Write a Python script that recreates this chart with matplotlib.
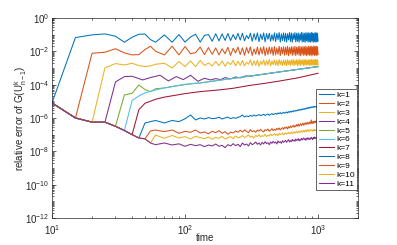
import numpy as np
import matplotlib
matplotlib.use("Agg")
import matplotlib.pyplot as plt
from matplotlib.ticker import LogLocator, NullFormatter

plt.rcParams['font.family'] = ['Liberation Sans', 'DejaVu Sans']
plt.rcParams['mathtext.default'] = 'regular'

# time samples
T = [10, 15, 20, 25, 30, 35, 40, 45, 50, 55, 60,
     70, 80, 90, 100, 110, 120, 130, 140, 150, 160,
     170, 180, 190, 200, 210, 220, 230, 240, 250, 260,
     270, 280, 290, 300, 310, 320, 330, 340, 350, 360,
     370, 380, 390, 400, 410, 420, 430, 440, 450, 460,
     470, 480, 490, 500, 510, 520, 530, 540, 550, 560,
     570, 580, 590, 600, 610, 620, 630, 640, 650, 660,
     670, 680, 690, 700, 710, 720, 730, 740, 750, 760,
     770, 780, 790, 800, 810, 820, 830, 840, 850, 860,
     870, 880, 890, 900, 910, 920, 930, 940, 950, 960,
     970, 980, 990, 1000]

# shared starting curve (log10 of error) for t = 10..60
BASE = [-5.10, -6.00, -6.25, -6.25, -6.50, -6.75, -7.00, -7.20, -7.25, -7.50, -7.60]

# log10 error of each k after it leaves the shared curve
k1 = [-1.18, -1.02, -0.96, -1.10, -1.46, -1.16, -0.98, -0.97, -1.30, -1.46,
      -1.02, -1.46, -1.00, -1.45, -1.15, -0.98, -1.45, -1.05, -1.00, -1.40,
      -0.95, -1.38, -0.96, -1.35, -0.94, -1.36, -1.00, -1.30, -0.93, -1.33,
      -0.92, -1.38, -1.05, -1.25, -0.92, -1.40, -0.95, -1.32, -0.90, -1.42,
      -0.98, -1.30, -0.90, -1.44, -0.94, -1.28, -0.92, -1.40, -1.00, -1.35,
      -0.90, -1.42, -0.93, -1.30, -0.88, -1.45, -0.96, -1.36, -0.90, -1.40,
      -0.92, -1.45, -0.95, -1.32, -0.88, -1.42, -0.90, -1.46, -0.94, -1.30,
      -0.88, -1.44, -0.92, -1.40, -0.90, -1.46, -0.95, -1.34, -0.87, -1.45,
      -0.90, -1.42, -0.93, -1.47, -0.88, -1.38, -0.91, -1.45, -0.89, -1.42,
      -0.92, -1.46, -0.87, -1.40, -0.90, -1.47, -0.93, -1.42, -0.88, -1.45,
      -0.90, -1.44, -0.92, -1.40]
k2 = [-2.12, -2.06, -1.85, -2.10, -2.22, -2.20, -1.90, -1.70, -2.00,
      -2.22, -1.70, -2.22, -1.72, -2.15, -2.08, -1.75, -2.20, -1.78, -2.18,
      -1.80, -2.22, -1.85, -2.15, -1.76, -2.25, -1.82, -2.10, -1.75, -2.20,
      -1.80, -2.24, -1.78, -2.12, -1.74, -2.25, -1.86, -2.18, -1.75, -2.22,
      -1.78, -2.15, -1.72, -2.26, -1.80, -2.20, -1.74, -2.14, -1.76, -2.25,
      -1.72, -2.22, -1.80, -2.18, -1.70, -2.26, -1.76, -2.15, -1.73, -2.24,
      -1.75, -2.20, -1.70, -2.27, -1.78, -2.16, -1.72, -2.25, -1.74, -2.20,
      -1.70, -2.26, -1.76, -2.18, -1.72, -2.24, -1.70, -2.28, -1.75, -2.18,
      -1.71, -2.25, -1.74, -2.22, -1.69, -2.27, -1.76, -2.20, -1.70, -2.26,
      -1.72, -2.22, -1.70, -2.28, -1.74, -2.20, -1.68, -2.25, -1.72, -2.23,
      -1.70, -2.26, -1.73, -2.20]
k3 = [-3.00, -2.74, -2.82, -2.72, -2.86, -2.92, -2.88, -2.78,
      -2.72, -3.00, -2.62, -2.92, -2.58, -2.92, -2.55, -2.85, -2.70, -2.88,
      -2.62, -2.86, -2.58, -2.90, -2.65, -2.80, -2.55, -2.88, -2.60, -2.84,
      -2.55, -2.88, -2.66, -2.78, -2.52, -2.86, -2.58, -2.84, -2.54, -2.90,
      -2.60, -2.80, -2.52, -2.86, -2.56, -2.82, -2.50, -2.88, -2.58, -2.80,
      -2.52, -2.84, -2.55, -2.88, -2.50, -2.80, -2.56, -2.86, -2.52, -2.82,
      -2.54, -2.87, -2.50, -2.80, -2.55, -2.85, -2.52, -2.82, -2.49, -2.86,
      -2.55, -2.80, -2.50, -2.86, -2.53, -2.83, -2.48, -2.85, -2.54, -2.80,
      -2.50, -2.86, -2.52, -2.82, -2.49, -2.84, -2.55, -2.80, -2.50, -2.86,
      -2.52, -2.82, -2.48, -2.85, -2.53, -2.80, -2.50, -2.84, -2.49, -2.82,
      -2.52, -2.85, -2.50, -2.80]

t4 = [30, 35, 40, 48, 56, 65, 75, 86, 97, 110, 125, 140, 155, 170, 185, 200,
      220, 240, 260, 285, 310, 340, 366, 500, 700, 1000]
k4 = [-3.84, -3.52, -3.50, -3.72, -3.56, -3.44, -3.78, -3.52, -3.70, -3.44,
      -3.80, -3.62, -3.72, -3.64, -3.70, -3.58, -3.66, -3.54, -3.60, -3.48,
      -3.50, -3.44, -3.41, -3.25, -3.09, -2.92]
t5 = [35, 40, 45, 50, 55, 60, 70, 85, 100, 115, 130, 200, 300, 500, 700, 1000]
k5 = [-4.62, -4.52, -4.02, -4.30, -4.42, -4.25, -4.20, -4.08, -4.00, -3.94,
      -3.90, -3.69, -3.50, -3.25, -3.09, -2.92]
t6 = [40, 45, 50, 60, 70, 80, 100, 130, 200, 300, 500, 700, 1000]
k6 = [-4.95, -4.68, -4.50, -4.32, -4.20, -4.12, -3.98, -3.90, -3.69, -3.50,
      -3.25, -3.09, -2.92]
t7 = [45, 50, 60, 70, 100, 130, 180, 230, 300, 400, 500, 700, 1000]
k7 = [-5.50, -5.12, -4.88, -4.75, -4.54, -4.42, -4.32, -4.22, -4.06, -3.92,
      -3.80, -3.60, -3.32]

k8 = [-6.30, -6.22, -6.15,
      -6.30, -6.15, -6.22, -6.05, -5.82, -6.12, -6.00, -6.06, -5.98, -6.04,
      -6.02, -5.96, -6.06, -6.00, -5.95, -6.04, -5.98, -6.02, -5.96, -5.92,
      -5.82, -5.94, -5.88, -5.92, -5.85, -5.90, -5.82, -5.88, -5.84, -5.80,
      -5.86, -5.82, -5.78, -5.85, -5.80, -5.76, -5.84, -5.78, -5.74, -5.80,
      -5.76, -5.72, -5.78, -5.70, -5.74, -5.68, -5.75, -5.70, -5.66, -5.72,
      -5.68, -5.64, -5.70, -5.62, -5.66, -5.60, -5.65, -5.58, -5.62, -5.56,
      -5.60, -5.55, -5.58, -5.52, -5.56, -5.50, -5.54, -5.48, -5.52, -5.46,
      -5.50, -5.45, -5.48, -5.42, -5.46, -5.40, -5.44, -5.38, -5.42, -5.36,
      -5.40, -5.35, -5.38, -5.33, -5.37, -5.32, -5.36, -5.30, -5.34, -5.32,
      -5.36, -5.30, -5.34, -5.32]
k9 = [-6.78, -6.72,
      -6.82, -6.72, -6.92, -6.80, -6.86, -6.72, -6.90, -6.84, -6.95, -6.80,
      -6.88, -6.76, -6.92, -6.82, -6.98, -6.85, -6.90, -6.78, -6.86, -6.74,
      -6.84, -6.72, -6.80, -6.88, -6.70, -6.82, -6.76, -6.86, -6.72, -6.80,
      -6.68, -6.78, -6.84, -6.70, -6.76, -6.66, -6.80, -6.72, -6.64, -6.76,
      -6.68, -6.74, -6.62, -6.70, -6.60, -6.72, -6.64, -6.58, -6.68, -6.56,
      -6.62, -6.54, -6.66, -6.52, -6.60, -6.48, -6.58, -6.50, -6.44, -6.56,
      -6.46, -6.52, -6.40, -6.48, -6.36, -6.50, -6.42, -6.34, -6.46, -6.38,
      -6.30, -6.44, -6.36, -6.28, -6.40, -6.32, -6.26, -6.38, -6.30, -6.24,
      -6.36, -6.28, -6.12, -6.34, -6.26, -6.20, -6.32, -6.24, -6.18, -6.28,
      -6.22, -6.15, -6.26, -6.20]
k10 = [-7.02,
       -7.22, -7.05, -7.20, -7.12, -7.26, -7.10, -7.18, -7.24, -7.14, -7.28,
       -7.16, -7.22, -7.10, -7.26, -7.18, -7.12, -7.24, -7.08, -7.20, -7.14,
       -7.06, -7.18, -7.10, -7.02, -7.16, -7.08, -7.20, -7.04, -7.12, -7.00,
       -7.14, -7.06, -7.10, -6.98, -7.12, -7.04, -7.08, -6.96, -7.06, -7.00,
       -6.94, -7.04, -6.98, -7.06, -6.92, -7.00, -6.96, -6.90, -7.02, -6.94,
       -6.88, -6.98, -6.92, -6.86, -6.96, -6.90, -6.84, -6.94, -6.88, -6.82,
       -6.92, -6.86, -6.80, -6.90, -6.84, -6.78, -6.88, -6.82, -6.76, -6.86,
       -6.80, -6.74, -6.84, -6.78, -6.72, -6.82, -6.76, -6.70, -6.80, -6.74,
       -6.78, -6.70, -6.76, -6.72, -6.80, -6.74, -6.68, -6.78, -6.72, -6.76,
       -6.70, -6.78, -6.74, -6.80]
k11 = [-7.50, -7.62, -7.55, -7.70, -7.58, -7.66, -7.60, -7.72, -7.62, -7.68,
       -7.56, -7.70, -7.64, -7.78, -7.60, -7.68, -7.54, -7.66, -7.58, -7.72,
       -7.50, -7.62, -7.56, -7.68, -7.48, -7.60, -7.54, -7.44, -7.58, -7.50,
       -7.62, -7.46, -7.56, -7.42, -7.54, -7.48, -7.60, -7.44, -7.52, -7.40,
       -7.50, -7.44, -7.56, -7.38, -7.48, -7.42, -7.52, -7.36, -7.46, -7.40,
       -7.34, -7.46, -7.38, -7.30, -7.44, -7.36, -7.42, -7.28, -7.38, -7.32,
       -7.40, -7.26, -7.36, -7.30, -7.24, -7.38, -7.28, -7.34, -7.22, -7.32,
       -7.26, -7.20, -7.30, -7.24, -7.34, -7.22, -7.28, -7.18, -7.26, -7.30,
       -7.20, -7.26, -7.16, -7.24, -7.30, -7.18, -7.22, -7.14, -7.24, -7.20,
       -7.16, -7.22, -7.18, -7.20]

own = {1: (T[1:], k1), 2: (T[2:], k2), 3: (T[3:], k3), 4: (t4, k4),
       5: (t5, k5), 6: (t6, k6), 7: (t7, k7), 8: (T[8:], k8),
       9: (T[9:], k9), 10: (T[10:], k10), 11: (T[11:], k11)}

colors = ['#0072BD', '#D95319', '#EDB120', '#7E2F8E', '#77AC30', '#4DBEEE', '#A2142F']
dark = '#262626'

fig = plt.figure(figsize=(3.97, 2.45), dpi=100)
ax = fig.add_axes([0.131, 0.110, 0.771, 0.817])

for k in range(1, 12):
    tk, ek = own[k]
    t = list(T[:k]) + list(tk)
    e = BASE[:k] + ek
    ax.plot(t, 10.0 ** np.array(e), color=colors[(k - 1) % 7], lw=0.75,
            label='k=%d' % k)

ax.set_xscale('log')
ax.set_yscale('log')
ax.set_xlim(10, 2000)
ax.set_ylim(1e-12, 1)
ax.set_yticks([10.0 ** p for p in range(-12, 1, 2)])
ax.yaxis.set_minor_locator(LogLocator(base=10, subs=np.arange(1, 10), numticks=100))
ax.yaxis.set_minor_formatter(NullFormatter())
ax.xaxis.set_minor_locator(LogLocator(base=10, subs=np.arange(2, 10), numticks=100))
ax.xaxis.set_minor_formatter(NullFormatter())

ax.tick_params(which='both', direction='in', top=True, right=True,
               color=dark, labelcolor=dark, width=0.5)
ax.tick_params(which='major', length=3, labelsize=7)
ax.tick_params(axis='y', which='major', pad=2)
ax.tick_params(axis='x', which='major', pad=3.5)
ax.tick_params(which='minor', length=1.5)
for s in ax.spines.values():
    s.set_color(dark)
    s.set_linewidth(0.5)

ax.set_xlabel('time', fontsize=7, color=dark)
ax.xaxis.set_label_coords(0.5, -0.075)
ax.set_ylabel(r'relative error of G(U$^{k}_{n-1}$)', fontsize=7, color=dark)
ax.yaxis.set_label_coords(-0.075, 0.5)

leg = ax.legend(loc='upper right', bbox_to_anchor=(0.997, 0.645), fontsize=6,
                frameon=True, fancybox=False, edgecolor=dark, framealpha=1,
                borderpad=0.3, labelspacing=0.12, handlelength=1.8,
                handletextpad=0.3, borderaxespad=0)
leg.get_frame().set_linewidth(0.5)

fig.savefig('out.png', dpi=100)
